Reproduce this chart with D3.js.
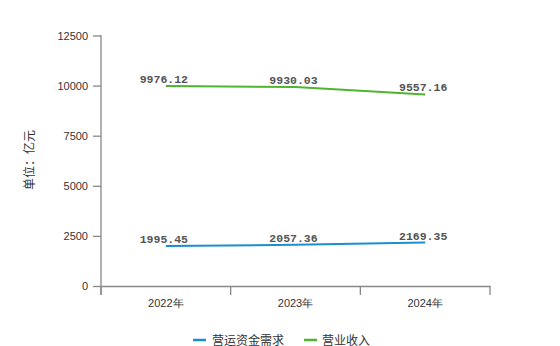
<!DOCTYPE html>
<html><head><meta charset="utf-8">
<script src="https://cdn.jsdelivr.net/npm/d3@7"></script>
<style>body{margin:0;background:#fff;} svg{display:block;}</style>
</head><body>
<svg id="c" width="560" height="346"></svg>
<script>
const categories = ["2022年", "2023年", "2024年"];
const workingCapital = [1995.45, 2057.36, 2169.35];
const revenue = [9976.12, 9930.03, 9557.16];
const yTicks = [0, 2500, 5000, 7500, 10000, 12500];
const seriesNames = ["营运资金需求", "营业收入"];
const colors = ["#1a8fd0", "#4db52f"];

const svg = d3.select("#c");
const x = d3.scaleBand().domain(categories).range([101, 490]);
const y = d3.scaleLinear().domain([0, 12500]).range([286, 35.5]);

// y axis
const ya = svg.append("g").attr("transform", "translate(101,0)")
  .call(d3.axisLeft(y).tickValues(yTicks).tickFormat(d3.format("d")).tickSize(8).tickPadding(5).tickSizeOuter(0));
ya.select(".domain").remove();
svg.append("line").attr("x1",101).attr("x2",101).attr("y1",35).attr("y2",295)
  .attr("stroke","#888").attr("stroke-width",1.3);
ya.selectAll(".tick line").attr("stroke","#888").attr("stroke-width",1.3);
ya.selectAll("text").attr("font-family","Liberation Sans, Arial, sans-serif").attr("font-size",11).attr("fill","#333");

// x axis
const xa = svg.append("g").attr("transform","translate(0,286)")
  .call(d3.axisBottom(x).tickSize(0).tickPadding(13));
xa.select(".domain").attr("stroke","#888").attr("stroke-width",1.3);
xa.selectAll("text").attr("font-family","Liberation Sans, Arial, sans-serif").attr("font-size",11).attr("fill","#333");
const bounds = [101].concat(categories.map(c => x(c) + x.bandwidth()));
svg.selectAll(".xt").data(bounds).enter().append("line")
  .attr("x1", d=>d).attr("x2", d=>d).attr("y1",286).attr("y2",295)
  .attr("stroke","#888").attr("stroke-width",1.3);

// y title
svg.append("text").attr("transform","translate(34,160) rotate(-90)")
  .attr("text-anchor","middle").attr("font-family","Noto Sans CJK SC, sans-serif")
  .attr("font-size",12).attr("fill","#333").text("单位：亿元");

const cx = c => x(c) + x.bandwidth()/2;
const line = d3.line().x((d,i)=>cx(categories[i])).y(d=>y(d));
[workingCapital, revenue].forEach((s, k) => {
  svg.append("path").datum(s).attr("d", line).attr("fill","none")
    .attr("stroke", colors[k]).attr("stroke-width", 2);
  svg.selectAll(".lbl"+k).data(s).enter().append("text")
    .attr("x",(d,i)=>cx(categories[i])-2).attr("y",d=>y(d)-3)
    .attr("text-anchor","middle").attr("font-family","Liberation Mono, DejaVu Sans Mono, monospace")
    .attr("font-weight","bold").attr("font-size",11.5).attr("fill","#555")
    .text(d=>d.toFixed(2));
});

// legend
const lg = [[193, 212], [304, 322]];
seriesNames.forEach((n,k)=>{
  svg.append("line").attr("x1",lg[k][0]).attr("x2",lg[k][0]+13).attr("y1",340).attr("y2",340)
    .attr("stroke",colors[k]).attr("stroke-width",2.5);
  svg.append("text").attr("x",lg[k][1]).attr("y",344.5)
    .attr("font-family","Noto Sans CJK SC, sans-serif").attr("font-size",12).attr("fill","#333").text(n);
});
</script>
</body></html>
